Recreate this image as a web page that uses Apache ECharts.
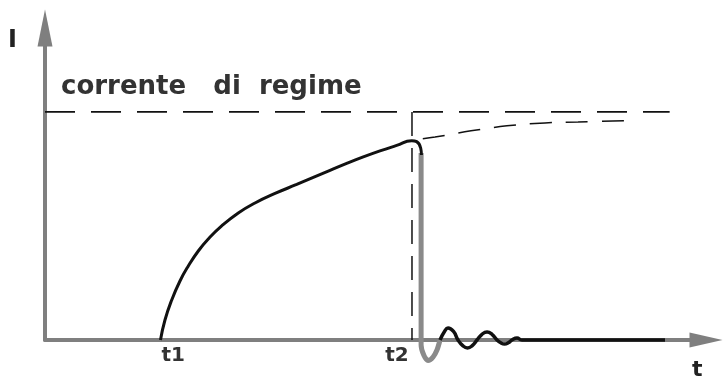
<!DOCTYPE html>
<html>
<head>
<meta charset="utf-8">
<script src="https://cdn.jsdelivr.net/npm/echarts@6/dist/echarts.min.js"></script>
<style>
  html, body { margin: 0; padding: 0; background: #fff; }
  #chart { width: 725px; height: 377px; }
</style>
</head>
<body>
<div id="chart"></div>
<script>
// valori (x: tempo 0..100, y: corrente, regime = 100)
const chargeX = [17.47, 18.15, 19.17, 20.42, 21.68, 23.19, 24.71, 26.73, 29.24, 31.77, 34.8, 38.08, 40.59, 43.12, 45.64, 48.15, 50.68, 53.21, 55.48, 56.23, 56.84, 56.95]
const chargeY = [0, 8.77, 17.54, 25.88, 32.46, 39.03, 44.3, 50.0, 55.7, 60.09, 64.26, 68.2, 71.27, 74.34, 77.41, 80.26, 82.9, 85.31, 87.41, 86.97, 84.08, 81.14]

// caduta della corrente all'apertura (tratto grigio)
const dropX = [56.9, 56.9, 57.3, 57.94, 58.7, 59.3, 59.76]
const dropY = [82.0, -2.2, -6.6, -9.0, -7.5, -4.4, 0]

// oscillazione smorzata dopo t2
const oscX = [59.76, 60.44, 60.97, 61.8, 62.48, 63.2, 63.92, 64.64, 65.36, 66.11, 66.87, 67.62, 68.38, 68.95, 69.52, 70.08, 70.65, 71.41, 72.16, 93.8]
const oscY = [0, 3.73, 5.26, 3.73, 0, -2.5, -3.51, -2.5, 0, 2.5, 3.51, 2.5, 0, -1.23, -1.75, -1.23, 0, 0.88, 0, 0]

// corrente di regime
const regimeX = [0, 94.5]
const regimeY = [100, 100]

// verticale tratteggiata in t2
const t2LineX = [55.52, 55.52]
const t2LineY = [100, 0]

// continuazione tratteggiata della carica
const asymX = [55.67, 59.0, 64.45, 69.89, 75.64, 80.64, 87.59]
const asymY = [87.7, 89.0, 91.7, 93.9, 95.2, 95.6, 96.1]

// etichette sull'asse dei tempi
const tickValues = [19.4, 53.25]
const tickNames = ['t1', 't2']

const zip = (xs, ys) => xs.map((x, i) => [x, ys[i]])

const chart = echarts.init(document.getElementById('chart'))

const axisGray = '#7f7f7f'

chart.setOption({
  animation: false,
  grid: { left: 45, right: 19, top: 28, bottom: 37 },
  xAxis: {
    type: 'value',
    min: 0,
    max: 100,
    splitLine: { show: false },
    axisTick: { show: false },
    axisLine: {
      onZero: true,
      symbol: ['none', 'triangle'],
      symbolSize: [15, 33],
      lineStyle: { color: axisGray, width: 4 }
    },
    axisLabel: {
      customValues: tickValues,
      margin: 6,
      color: '#333',
      fontFamily: 'DejaVu Sans',
      fontWeight: 'bold',
      fontSize: 20,
      formatter: (v) => tickNames[tickValues.indexOf(v)] || ''
    }
  },
  yAxis: {
    type: 'value',
    min: 0,
    max: 136.8,
    splitLine: { show: false },
    axisTick: { show: false },
    axisLabel: { show: false },
    axisLine: {
      symbol: ['none', 'triangle'],
      symbolSize: [15, 37],
      lineStyle: { color: axisGray, width: 4 }
    }
  },
  graphic: [
    {
      type: 'text', left: 8, top: 29,
      style: { text: 'I', font: 'bold 24px "DejaVu Sans"', fill: '#222' }
    },
    {
      type: 'text', left: 692, top: 359,
      style: { text: 't', font: 'bold 22px "DejaVu Sans"', fill: '#222' }
    },
    {
      type: 'text', left: 61, top: 74,
      style: { text: 'corrente   di  regime', font: 'bold 26px "DejaVu Sans"', fill: '#333' }
    }
  ],
  series: [
    {
      type: 'line', data: zip(regimeX, regimeY), showSymbol: false, silent: true,
      lineStyle: { color: '#111', width: 1.8, type: [30, 16] }
    },
    {
      type: 'line', data: zip(t2LineX, t2LineY), showSymbol: false, silent: true,
      lineStyle: { color: '#111', width: 1.5, type: [24, 12] }
    },
    {
      type: 'line', data: zip(asymX, asymY), showSymbol: false, silent: true, smooth: 0.4,
      lineStyle: { color: '#111', width: 1.5, type: [22, 14], dashOffset: -10 }
    },
    {
      type: 'line', data: zip(dropX, dropY), showSymbol: false, silent: true, clip: false, smooth: 0.3,
      lineStyle: { color: '#8a8a8a', width: 5 }
    },
    {
      type: 'line', data: zip(chargeX, chargeY), showSymbol: false, silent: true, smooth: 0.5,
      lineStyle: { color: '#111', width: 3 }
    },
    {
      type: 'line', data: zip(oscX, oscY), showSymbol: false, silent: true, clip: false, smooth: 0.5,
      lineStyle: { color: '#111', width: 3.5 }
    }
  ]
})
</script>
</body>
</html>
